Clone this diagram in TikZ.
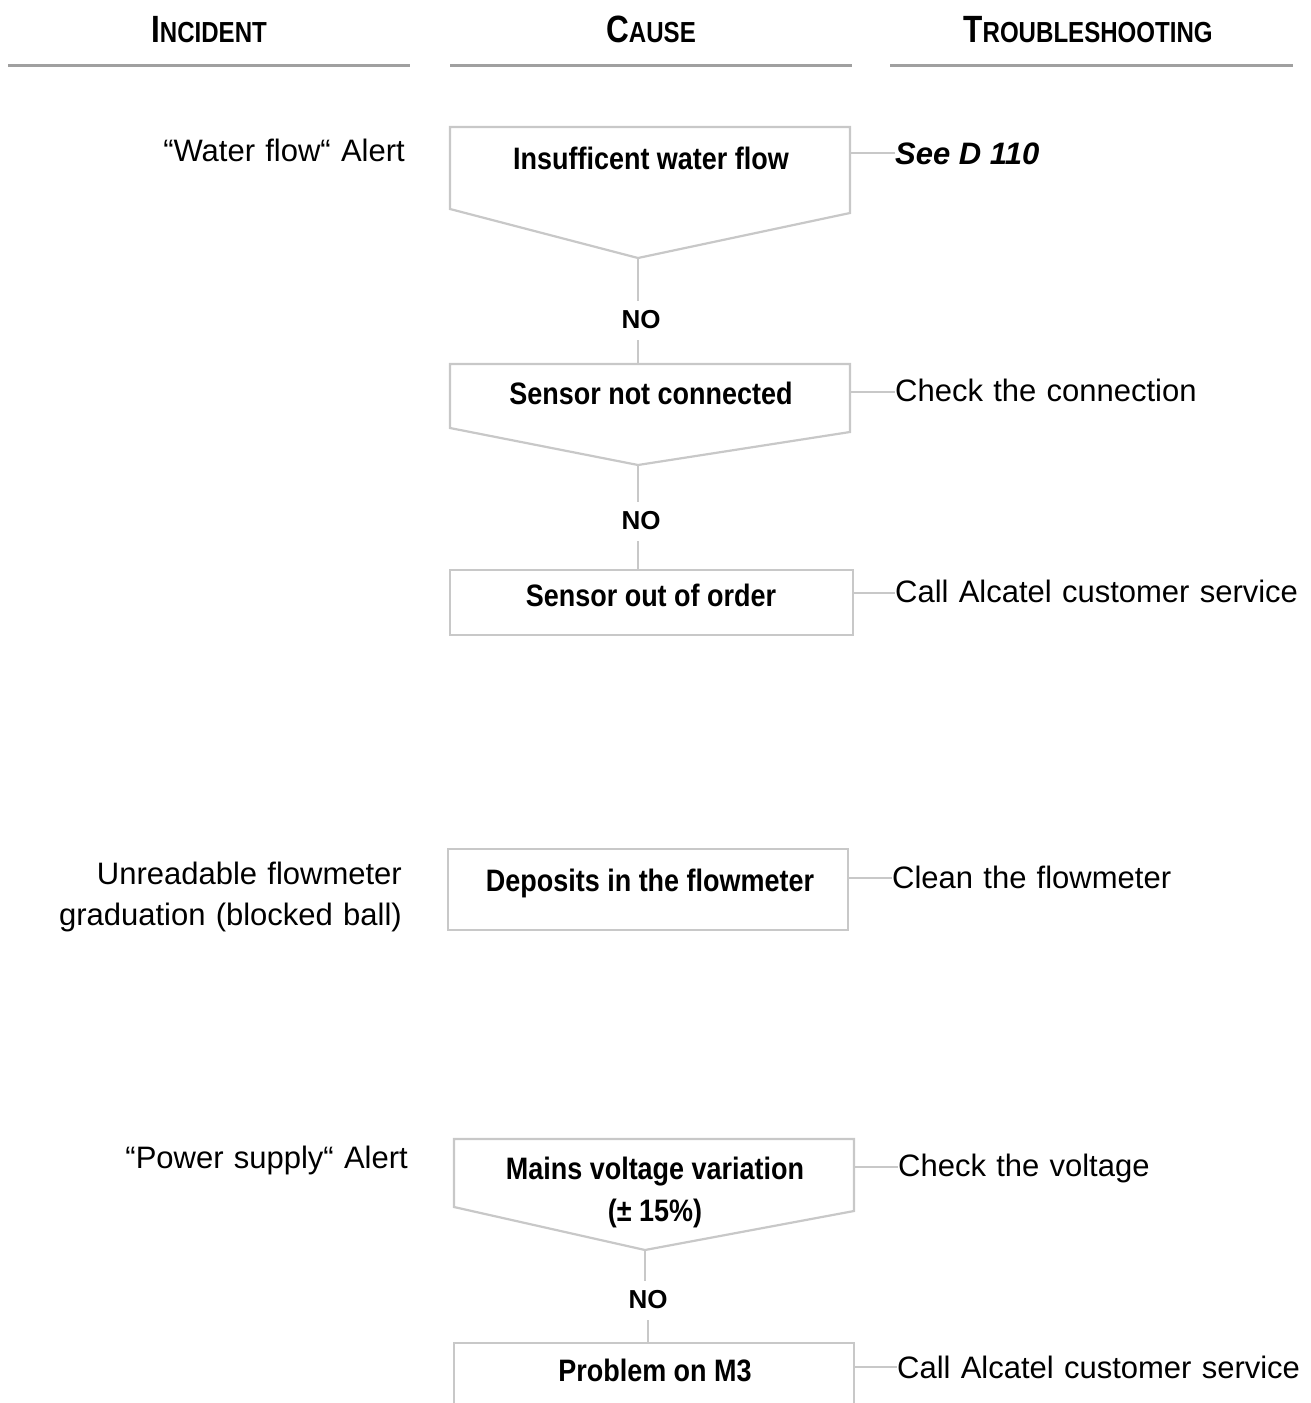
\documentclass[tikz,border=0pt]{standalone}
\usepackage{fontspec}
\setmainfont{Liberation Sans}
\newfontfamily\cbfont[FakeStretch=0.87]{Liberation Sans}
\newfontfamily\hdfont[FakeStretch=0.83]{Liberation Sans}
\definecolor{boxgray}{HTML}{C8C8C8}
\definecolor{rulegray}{HTML}{A0A0A0}
\newcommand{\hdsc}[2]{{\fontsize{38}{38}\selectfont #1}{\fontsize{29}{29}\selectfont #2}}
\newcommand{\bodyfnt}{\fontsize{31}{41}\selectfont\spaceskip=0.33em plus 0.1em\relax}
\begin{document}
\begin{tikzpicture}[x=1pt,y=-1pt,
  boxline/.style={draw=boxgray,line width=2.2pt,line join=miter},
  headrule/.style={draw=rulegray,line width=3pt},
  conn/.style={draw=boxgray,line width=1.6pt},
  hdtext/.style={inner sep=0pt,anchor=base,font=\hdfont\bfseries},
  bodytext/.style={inner sep=0pt,font=\bodyfnt},
  boxtext/.style={inner sep=0pt,anchor=base,align=center,font=\cbfont\bfseries\fontsize{31}{42}\selectfont},
  notext/.style={inner sep=0pt,anchor=base,font=\bfseries\fontsize{26}{26}\selectfont}]
\useasboundingbox (0,0) rectangle (1310,1403);
\fill[white] (0,0) rectangle (1310,1403);

% headers
\node[hdtext] (hInc) at (209,42) {\hdsc{I}{NCIDENT}};
\node[hdtext] (hCau) at (651,42) {\hdsc{C}{AUSE}};
\node[hdtext] (hTro) at (1088,42) {\hdsc{T}{ROUBLESHOOTING}};
\coordinate (r1a) at (8,65);   \coordinate (r1b) at (410,65);
\coordinate (r2a) at (450,65); \coordinate (r2b) at (852,65);
\coordinate (r3a) at (890,65); \coordinate (r3b) at (1293,65);
\draw[headrule] (r1a) -- (r1b);
\draw[headrule] (r2a) -- (r2b);
\draw[headrule] (r3a) -- (r3b);

% ---------- Block 1 ----------
\node[bodytext,anchor=base east] (inc1) at (405,161) {“Water flow“\ Alert};

\coordinate (b1tl) at (450,127); \coordinate (b1tr) at (850,127);
\coordinate (b1bl) at (450,209); \coordinate (b1br) at (850,213);
\coordinate (b1ap) at (638,258);
\draw[boxline] (b1ap) -- (b1bl) -- (b1tl) -- (b1tr) -- (b1br) -- cycle;
\node[boxtext] (c1) at (651,169) {Insufficent water flow};
\coordinate (b1r) at (850,153);
\node[inner sep=0pt,anchor=base west,font=\bfseries\itshape\fontsize{31}{36}\selectfont] (t1) at (895,164) {See D 110};
\draw[conn] (b1r) -- (b1r -| t1.west);

\node[notext] (no1) at (641,328) {NO};
\coordinate (b2tl) at (450,364); \coordinate (b2tr) at (850,364);
\coordinate (b2bl) at (450,428); \coordinate (b2br) at (850,432);
\coordinate (b2ap) at (638,465);
\coordinate (b2tc) at (638,364);
\draw[conn] (b1ap) -- ([yshift=9pt]b1ap |- no1.north);
\draw[conn] ([yshift=-12pt]b2tc |- no1.south) -- (b2tc);

% ---------- Block 2 ----------
\draw[boxline] (b2ap) -- (b2bl) -- (b2tl) -- (b2tr) -- (b2br) -- cycle;
\node[boxtext] (c2) at (651,404) {Sensor not connected};
\coordinate (b2r) at (850,392);
\node[bodytext,anchor=base west] (t2) at (895,401) {Check the connection};
\draw[conn] (b2r) -- (b2r -| t2.west);

\node[notext] (no2) at (641,529) {NO};
\coordinate (b3tc) at (638,570);
\draw[conn] (b2ap) -- ([yshift=9pt]b2ap |- no2.north);
\draw[conn] ([yshift=-12pt]b3tc |- no2.south) -- (b3tc);

% ---------- Block 3 ----------
\coordinate (b3tl) at (450,570); \coordinate (b3br) at (853,635);
\draw[boxline] (b3tl) rectangle (b3br);
\node[boxtext] (c3) at (651,606) {Sensor out of order};
\coordinate (b3r) at (853,593);
\node[bodytext,anchor=base west] (t3) at (895,602) {Call Alcatel customer service};
\draw[conn] (b3r) -- (b3r -| t3.west);

% ---------- Block 4 ----------
\node[bodytext,anchor=base east,align=right] (inc2) at (402,925) {Unreadable flowmeter\\graduation (blocked ball)};
\coordinate (b4tl) at (448,849); \coordinate (b4br) at (848,930);
\draw[boxline] (b4tl) rectangle (b4br);
\node[boxtext] (c4) at (650,891) {Deposits in the flowmeter};
\coordinate (b4r) at (848,878);
\node[bodytext,anchor=base west] (t4) at (892,888) {Clean the flowmeter};
\draw[conn] (b4r) -- (b4r -| t4.west);

% ---------- Block 5 ----------
\node[bodytext,anchor=base east] (inc3) at (408,1168) {“Power supply“\ Alert};
\coordinate (b5tl) at (454,1139); \coordinate (b5tr) at (854,1139);
\coordinate (b5bl) at (454,1207); \coordinate (b5br) at (854,1211);
\coordinate (b5ap) at (645,1250);
\draw[boxline] (b5ap) -- (b5bl) -- (b5tl) -- (b5tr) -- (b5br) -- cycle;
\node[boxtext] (c5) at (655,1221) {Mains voltage variation\\(± 15\%)};
\coordinate (b5r) at (854,1167);
\node[bodytext,anchor=base west] (t5) at (898,1176) {Check the voltage};
\draw[conn] (b5r) -- (b5r -| t5.west);

\node[notext] (no3) at (648,1308) {NO};
\coordinate (b6tc) at (648,1343);
\draw[conn] (b5ap) -- ([yshift=9pt]b5ap |- no3.north);
\draw[conn] ([yshift=-12pt]b6tc |- no3.south) -- (b6tc);

% ---------- Block 6 ----------
\coordinate (b6tl) at (454,1343); \coordinate (b6tr) at (854,1343);
\coordinate (b6bl) at (454,1410); \coordinate (b6br) at (854,1410);
\draw[boxline] (b6bl) -- (b6tl) -- (b6tr) -- (b6br);
\node[boxtext] (c6) at (655,1381) {Problem on M3};
\coordinate (b6r) at (854,1367);
\node[bodytext,anchor=base west] (t6) at (897,1378) {Call Alcatel customer service};
\draw[conn] (b6r) -- (b6r -| t6.west);
\end{tikzpicture}
\end{document}
